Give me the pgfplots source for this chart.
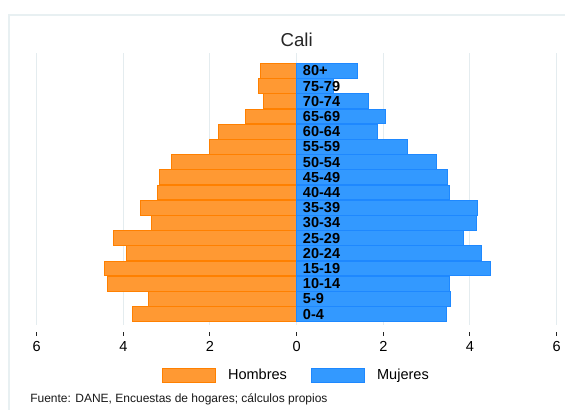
\documentclass[border=0pt]{standalone}
\usepackage{fontspec}
\setmainfont{Liberation Sans}
\usepackage{pgfplots}
\usepackage{pgfplotstable}
\pgfplotsset{compat=1.18}
\definecolor{hom}{RGB}{255,153,51}
\definecolor{hombor}{RGB}{255,128,0}
\definecolor{muj}{RGB}{51,153,255}
\definecolor{mujbor}{RGB}{30,136,255}
\definecolor{gridc}{RGB}{228,236,239}
\definecolor{framec}{RGB}{232,240,242}
\pgfplotstableread{
y h m label
0 -3.79 3.45 0-4
1 -3.41 3.56 5-9
2 -4.37 3.53 10-14
3 -4.44 4.48 15-19
4 -3.93 4.26 20-24
5 -4.22 3.86 25-29
6 -3.36 4.16 30-34
7 -3.60 4.18 35-39
8 -3.20 3.53 40-44
9 -3.16 3.47 45-49
10 -2.89 3.23 50-54
11 -2.00 2.55 55-59
12 -1.81 1.87 60-64
13 -1.18 2.06 65-69
14 -0.755 1.65 70-74
15 -0.89 0.84 75-79
16 -0.83 1.415 80+
}\pyramid
\begin{document}
\begin{tikzpicture}
\useasboundingbox (0,0) rectangle (423.75pt,307.5pt);
\fill[white] (0,0) rectangle (423.75pt,307.5pt);
\draw[framec, line width=1.5pt] (6.75pt,-5pt) -- (6.75pt,296.25pt) -- (430pt,296.25pt);
\begin{axis}[
  at={(27.5pt,63.75pt)}, anchor=south west,
  scale only axis, width=390pt, height=204pt,
  xmin=-6, xmax=6, ymin=-0.72, ymax=17.18,
  axis line style={draw=none},
  ytick=\empty,
  xtick={-6,-4,-2,0,2,4,6},
  xticklabels={6,4,2,0,2,4,6},
  xtick pos=bottom,
  tick align=outside,
  major tick length=3pt,
  every tick/.style={black!85, line width=0.75pt, yshift=-5.25pt},
  xticklabel style={font=\fontsize{10.9}{12}\selectfont, yshift=-5.5pt},
  /pgf/number format/assume math mode=true,
  xmajorgrids,
  major grid style={gridc, line width=0.75pt},
  title={Cali},
  title style={font=\fontsize{14}{16}\selectfont, text=black!85, anchor=center, at={(0.5,1)}, yshift=3.5pt},
  xbar, bar shift=0pt, bar width=0.97,
  legend columns=2,
  legend style={draw=none, fill=none, at={(0.5,-0.184)}, anchor=center,
    font=\fontsize{10.9}{12}\selectfont,
    /tikz/every even column/.append style={column sep=16pt}},
  legend image code/.code={\draw[#1, line width=0.75pt] (0pt,-5.25pt) rectangle (39.75pt,5.25pt);\path[draw=none,fill=none] (39.75pt,0pt) -- (47.25pt,0pt);},
]
\addplot[fill=hom, draw=hombor, line width=0.75pt] table[x=h, y=y] {\pyramid};
\addlegendentry{Hombres}
\addplot[fill=muj, draw=mujbor, line width=0.75pt] table[x=m, y=y] {\pyramid};
\addlegendentry{Mujeres}
\addplot[forget plot, draw=none, mark=none, xbar=0pt, nodes near coords, point meta=explicit symbolic,
  nodes near coords style={anchor=west, inner sep=0pt, xshift=4.5pt, font=\fontsize{10.9}{12}\selectfont\bfseries, text=black}]
  table[x expr=0, y=y, meta=label] {\pyramid};
\end{axis}
\node[anchor=west, inner sep=0pt, font=\fontsize{9}{10}\selectfont, text=black!90] at (22.5pt,8.25pt) {Fuente: DANE, Encuestas de hogares; cálculos propios};
\end{tikzpicture}
\end{document}
